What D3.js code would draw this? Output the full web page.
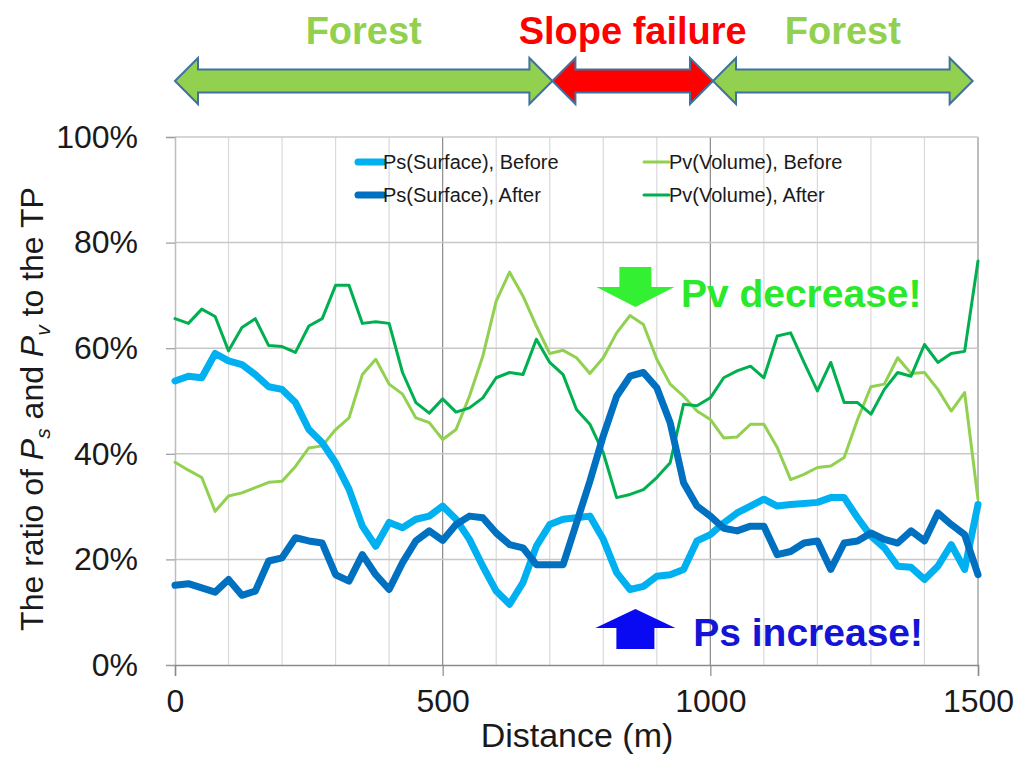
<!DOCTYPE html>
<html>
<head>
<meta charset="utf-8">
<script src="https://cdn.jsdelivr.net/npm/d3@7"></script>
<style>
html,body{margin:0;padding:0;background:#fff;}
svg{display:block;font-family:Arial,"Liberation Sans",sans-serif;}
</style>
</head>
<body>
<svg id="chart" width="1022" height="778"></svg>
<script>
// ---- data ----
const distance = [0,25,50,75,100,125,150,175,200,225,250,275,300,325,350,375,400,425,450,475,
  500,525,550,575,600,625,650,675,700,725,750,775,800,825,850,875,900,925,950,975,
  1000,1025,1050,1075,1100,1125,1150,1175,1200,1225,1250,1275,1300,1325,1350,1375,1400,1425,1450,1475,1500];
const psBefore = [53.8,54.7,54.4,59.0,57.6,56.9,55.0,52.7,52.2,49.7,44.6,42.1,38.3,33.3,26.3,22.5,27.0,26.0,27.6,28.2,
  30.1,27.6,23.8,18.7,14.0,11.5,15.6,22.5,26.6,27.6,27.9,28.2,23.8,17.5,14.3,14.9,16.8,17.1,18.1,23.5,
  24.7,26.9,28.8,30.1,31.4,30.1,30.4,30.6,30.8,31.7,31.7,27.9,24.4,22.2,18.7,18.5,16.2,18.7,22.8,18.1,30.4];
const psAfter = [15.1,15.4,14.6,13.8,16.2,13.2,14.0,19.7,20.3,24.1,23.5,23.1,17.1,15.9,20.9,17.1,14.3,19.4,23.5,25.4,
  23.6,26.6,28.2,27.9,25.0,22.8,22.2,19.0,19.0,19.0,26.9,34.8,43.4,50.9,54.7,55.4,52.5,45.9,34.5,30.1,
  28.2,25.9,25.4,26.3,26.3,20.9,21.5,23.1,23.5,18.1,23.1,23.5,25.0,23.8,23.1,25.4,23.5,28.8,26.6,24.7,17.1];
const pvBefore = [38.4,36.9,35.5,29.1,32.0,32.6,33.6,34.6,34.8,37.6,41.1,41.5,44.6,46.8,55.0,57.9,53.2,51.3,46.8,45.9,
  42.7,44.6,50.9,58.5,68.9,74.4,69.9,64.2,59.0,59.6,58.2,55.2,58.2,62.9,66.2,64.5,57.9,53.2,50.9,48.1,
  46.5,43.0,43.2,45.6,45.6,41.2,35.1,36.1,37.4,37.7,39.3,46.5,52.7,53.2,58.2,55.2,55.4,52.2,48.1,51.6,31.4];
const pvAfter = [65.6,64.7,67.4,66.0,59.5,63.9,65.6,60.5,60.3,59.2,64.2,65.6,71.9,71.9,64.7,65.0,64.7,55.4,49.7,47.7,
  50.4,47.9,48.7,50.6,54.4,55.4,55.0,61.7,57.3,55.0,48.4,45.6,40.2,31.7,32.3,33.2,35.5,38.3,49.4,49.1,
  50.6,54.4,55.7,56.6,54.4,62.3,62.9,57.3,51.9,57.3,49.7,49.7,47.5,52.2,55.4,54.7,60.7,57.3,59.0,59.4,76.5];
const seriesNames = ["Ps(Surface), Before","Ps(Surface), After","Pv(Volume), Before","Pv(Volume), After"];
const xTicks = [0,500,1000,1500];
const xMinorTicks = [100,200,300,400,600,700,800,900,1100,1200,1300,1400];
const yTicks = [0,20,40,60,80,100];
const zoneLabels = ["Forest","Slope failure","Forest"];
const zoneFrom = [0,705,1005];
const zoneTo = [705,1005,1490];

// ---- setup ----
const svg = d3.select("#chart");
const x = d3.scaleLinear().domain([0,1500]).range([175,978]);
const y = d3.scaleLinear().domain([0,100]).range([665,137]);

// gridlines
svg.append("g").selectAll("line").data(xMinorTicks).join("line")
  .attr("x1",d=>x(d)).attr("x2",d=>x(d)).attr("y1",y(0)).attr("y2",y(100))
  .attr("stroke","#d9d9d9").attr("stroke-width",1.2);
svg.append("g").selectAll("line").data([500,1000]).join("line")
  .attr("x1",d=>x(d)).attr("x2",d=>x(d)).attr("y1",y(0)).attr("y2",y(100))
  .attr("stroke","#8a8a8a").attr("stroke-width",1.2);
svg.append("line").attr("x1",x(1500)).attr("x2",x(1500)).attr("y1",y(0)).attr("y2",y(100))
  .attr("stroke","#bdbdbd").attr("stroke-width",2);
svg.append("g").selectAll("line").data(yTicks.filter(d=>d>0)).join("line")
  .attr("x1",x(0)).attr("x2",x(1500)).attr("y1",d=>y(d)).attr("y2",d=>y(d))
  .attr("stroke","#c8c8c8").attr("stroke-width",1.5);

// axes
const yAxis = svg.append("g").attr("transform",`translate(${x(0)},0)`)
  .call(d3.axisLeft(y).tickValues(yTicks).tickSize(9).tickPadding(28).tickFormat(d=>d+"%"));
yAxis.select(".domain").attr("stroke","#bdbdbd").attr("stroke-width",1.5);
yAxis.selectAll(".tick line").attr("stroke","#9a9a9a").attr("stroke-width",1.2);
yAxis.selectAll("text").attr("font-size",32).attr("fill","#1a1a1a").attr("font-family","Arial, 'Liberation Sans', sans-serif");

const xAxis = svg.append("g").attr("transform",`translate(0,${y(0)})`)
  .call(d3.axisBottom(x).tickValues(xTicks).tickSize(11).tickPadding(13).tickFormat(d3.format("d")));
xAxis.select(".domain").attr("stroke","#8a8a8a").attr("stroke-width",1.5);
xAxis.selectAll(".tick line").attr("stroke","#8a8a8a").attr("stroke-width",1.2);
xAxis.selectAll("text").attr("font-size",32).attr("fill","#1a1a1a").attr("font-family","Arial, 'Liberation Sans', sans-serif");

// axis titles
svg.append("text").attr("x",577).attr("y",747).attr("text-anchor","middle")
  .attr("font-size",34).attr("fill","#1a1a1a").text("Distance (m)");
const yt = svg.append("text").attr("transform","translate(43,409) rotate(-90)")
  .attr("text-anchor","middle").attr("font-size",32).attr("fill","#1a1a1a");
yt.append("tspan").text("The ratio of ");
yt.append("tspan").attr("font-style","italic").text("P");
yt.append("tspan").attr("font-style","italic").attr("font-size",21).attr("dy",7).text("s");
yt.append("tspan").attr("dy",-7).text(" and ");
yt.append("tspan").attr("font-style","italic").text("P");
yt.append("tspan").attr("font-style","italic").attr("font-size",21).attr("dy",7).text("v");
yt.append("tspan").attr("dy",-7).text(" to the TP");

// lines
const seriesData = [
  {name:seriesNames[2], values:pvBefore, color:"#92d050", width:3},
  {name:seriesNames[3], values:pvAfter, color:"#00b050", width:3},
  {name:seriesNames[0], values:psBefore, color:"#00b0f0", width:7},
  {name:seriesNames[1], values:psAfter, color:"#0070c0", width:7}
];
const line = d3.line().x((d,i)=>x(distance[i])).y(d=>y(d));
svg.append("g").selectAll("path").data(seriesData).join("path")
  .attr("d",d=>line(d.values)).attr("fill","none")
  .attr("stroke",d=>d.color).attr("stroke-width",d=>d.width)
  .attr("stroke-linejoin","round").attr("stroke-linecap","round");

// legend
const leg = svg.append("g");
const items = [
  {s:seriesData.find(d=>d.name===seriesNames[0]), lx:358, ly:162},
  {s:seriesData.find(d=>d.name===seriesNames[1]), lx:358, ly:195},
  {s:seriesData.find(d=>d.name===seriesNames[2]), lx:644, ly:162},
  {s:seriesData.find(d=>d.name===seriesNames[3]), lx:644, ly:195}
];
items.forEach(it=>{
  leg.append("line").attr("x1",it.lx).attr("x2",it.lx+25).attr("y1",it.ly).attr("y2",it.ly)
    .attr("stroke",it.s.color).attr("stroke-width",it.s.width).attr("stroke-linecap","round");
  leg.append("text").attr("x",it.lx+25).attr("y",it.ly+7).attr("font-size",20).attr("fill","#1a1a1a").text(it.s.name);
});

// top zone arrows
const ay = 81, shaftH = 11.5, headH = 23, headL = 23;
function dblArrow(x1,x2){
  return `M${x1},${ay} L${x1+headL},${ay-headH} L${x1+headL},${ay-shaftH} L${x2-headL},${ay-shaftH} L${x2-headL},${ay-headH} L${x2},${ay} L${x2-headL},${ay+headH} L${x2-headL},${ay+shaftH} L${x1+headL},${ay+shaftH} L${x1+headL},${ay+headH} Z`;
}
const zoneG = svg.append("g");
zoneLabels.forEach((lab,i)=>{
  const x1 = x(zoneFrom[i]), x2 = x(zoneTo[i]);
  const col = lab==="Forest" ? "#92d050" : "#ff0000";
  zoneG.append("path").attr("d",dblArrow(x1,x2))
    .attr("fill", col).attr("stroke","#41719c").attr("stroke-width",2).attr("stroke-linejoin","miter");
  zoneG.append("text").attr("x",(x1+x2)/2).attr("y",44)
    .attr("text-anchor","middle").attr("font-size",38).attr("font-weight","bold")
    .attr("fill", col).text(lab);
});

// annotations
function blockArrow(cx, yTail, yTip, shaftHalf, headHalf, headLen, dir){
  const yBase = yTip - dir*headLen;
  return `M${cx-shaftHalf},${yTail} L${cx+shaftHalf},${yTail} L${cx+shaftHalf},${yBase} L${cx+headHalf},${yBase} L${cx},${yTip} L${cx-headHalf},${yBase} L${cx-shaftHalf},${yBase} Z`;
}
const annX = x(860);
svg.append("path").attr("d",blockArrow(annX,267,307,16,39,20,1)).attr("fill","#33f033");
svg.append("text").attr("x",x(945)).attr("y",307).attr("font-size",39).attr("font-weight","bold")
  .attr("fill","#2ae82a").text("Pv decrease!");
svg.append("path").attr("d",blockArrow(annX,649,609,19,40,19,-1)).attr("fill","#0a0af2");
svg.append("text").attr("x",x(968)).attr("y",646).attr("font-size",39).attr("font-weight","bold")
  .attr("fill","#1414d6").text("Ps increase!");
</script>
</body>
</html>
